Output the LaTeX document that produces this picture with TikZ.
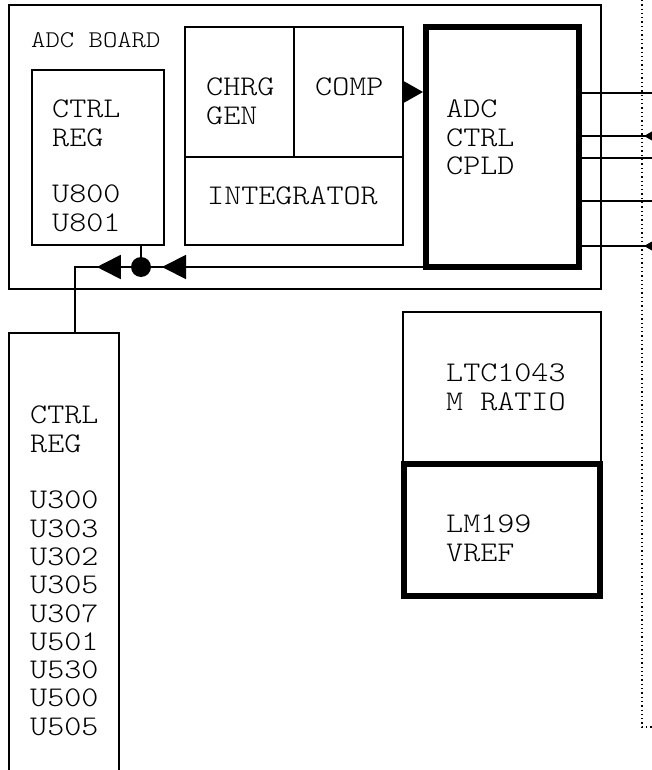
\documentclass[tikz,border=0pt]{standalone}
\usepackage{fontspec}
\setmonofont[FakeStretch=1.14]{Latin Modern Mono Light}
\usetikzlibrary{arrows.meta,fit,decorations.markings}

\begin{document}
\begin{tikzpicture}[
  x = 1pt, y = -1pt,
  box/.style = {draw, line width=1.8pt, inner sep=0pt, outer sep=0pt},
  heavy/.style = {box, line width=6pt},
  lbl/.style = {anchor=north west, inner sep=0pt, align=left,
    font=\ttfamily\fontsize{28.5}{28.3}\selectfont},
  smalllbl/.style = {lbl, font=\ttfamily\fontsize{24}{24}\selectfont},
  wire/.style = {line width=1.8pt},
  dot/.style = {circle, fill, minimum size=20pt, inner sep=0pt},
  smalltip/.tip = {Triangle[length=19pt, width=21pt]},
  bigtip/.tip = {Triangle[length=24pt, width=24pt]},
  intip/.style = {postaction={decorate}, decoration={markings,
    mark=at position #1 with {\arrow{smalltip}}}},
  bustip/.style = {postaction={decorate}, decoration={markings,
    mark=at position #1 with {\arrow{bigtip}}}},
  dotline/.style = {line width=1.3pt, dash pattern=on 1.3pt off 3pt}
]
  \clip (0,0) rectangle (652,770);

  % Karte
  \node[box, fit={(9,5) (601,289)}] (board) {};
  \node[smalllbl] (boardtxt) at (31,32) {ADC BOARD};

  % Bausteine
  \node[box, fit={(32,70) (164,245)}] (topreg) {};
  \node[box, fit={(185,27) (294,157)}] (chrg) {};
  \node[box, fit={(294,27) (403,157)}] (comp) {};
  \node[box, fit={(185,157) (403,245)}] (integ) {};
  \node[heavy, fit={(426,27) (579,267)}] (cpld) {};
  \node[box, fit={(9,333) (119,800)}] (lowreg) {};
  \node[box, fit={(403,312) (601,464)}] (ratio) {};
  \node[heavy, fit={(404,464) (600,596)}] (vref) {};

  % Texte
  \node[lbl] (topregtxt) at (52,100) {CTRL\\REG\\[28.3pt]U800\\U801};
  \node[lbl] (chrgtxt) at (206,78) {CHRG\\GEN};
  \node[lbl] (comptxt) at (315,78) {COMP};
  \node[lbl] (integtxt) at (207,187) {INTEGRATOR};
  \node[lbl] (cpldtxt) at (446,100) {ADC\\CTRL\\CPLD};
  \node[lbl] (lowregtxt) at (30,406)
    {CTRL\\REG\\[28.3pt]U300\\U303\\U302\\U305\\U307\\U501\\U530\\U500\\U505};
  \node[lbl] (ratiotxt) at (446,364) {LTC1043\\M RATIO};
  \node[lbl] (vreftxt) at (446,515) {LM199\\VREF};

  % Verbindungen
  \draw[wire, -{smalltip}, shorten >=3pt] (comp.east) -- (cpld.west |- comp.east);

  \foreach \n/\y in {o1/93, i1/136, o2/158, o3/201, i2/246}
    \coordinate (\n) at (660,\y);
  \foreach \n in {o1, o2, o3}
    \draw[wire] (cpld.east |- \n) -- (\n);
  \foreach \n in {i1, i2}
    \draw[wire, intip=16pt] (\n) -- (cpld.east |- \n);

  \node[dot] (junc) at (141,267) {};
  \coordinate (bend) at (75,267);
  \draw[wire] (topreg.south -| junc) -- (junc);
  \draw[wire, bustip=264pt] (cpld.south west) -- (junc);
  \draw[wire, bustip=34pt] (junc) -- (bend) -- (bend |- lowreg.north);

  % Grenze
  \coordinate (dtop) at (642,0);
  \coordinate (dcorner) at (642,727);
  \coordinate (dend) at (652,727);
  \draw[dotline] (dtop) -- (dcorner) -- (dend);
\end{tikzpicture}
\end{document}
